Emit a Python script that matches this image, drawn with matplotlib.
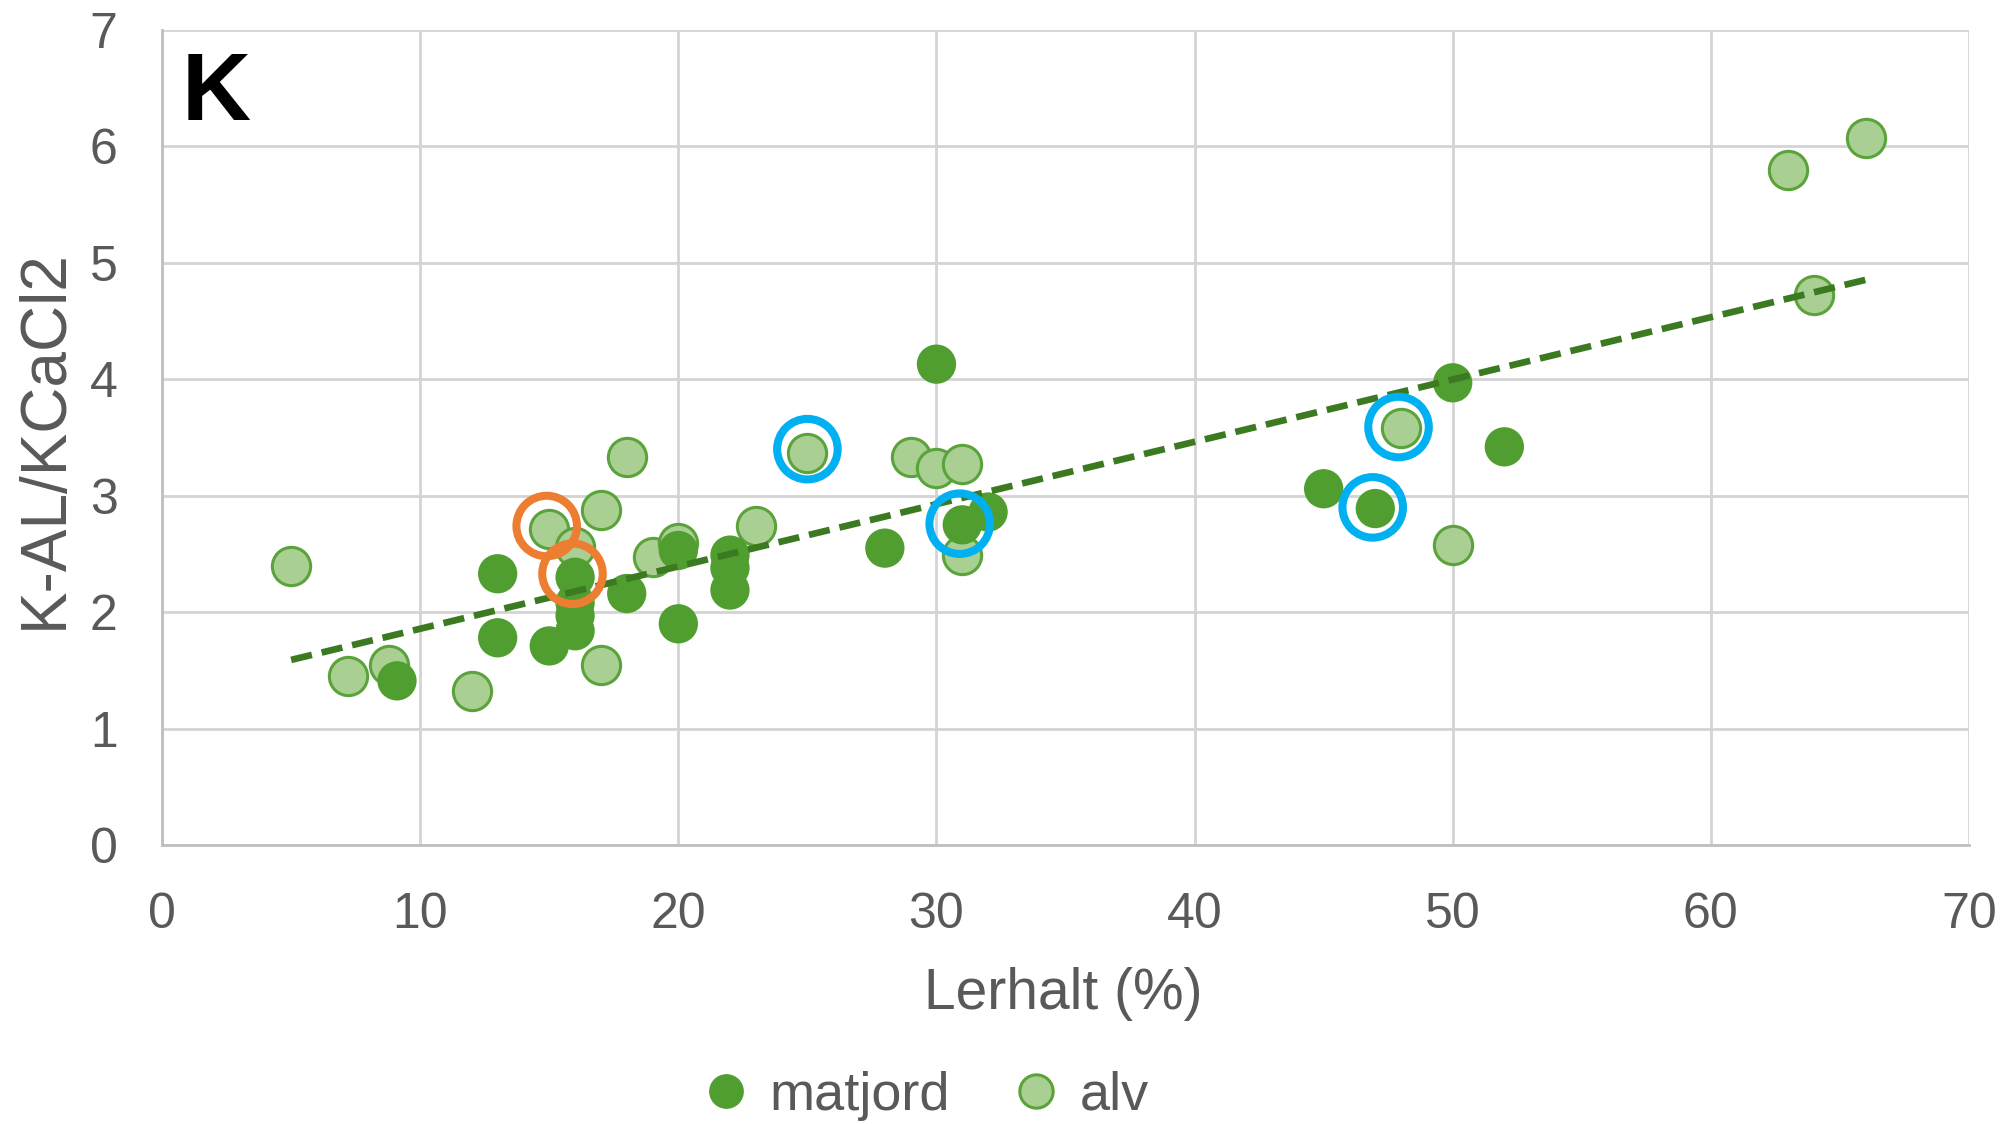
import matplotlib
matplotlib.use("Agg")
import matplotlib.pyplot as plt
from matplotlib.lines import Line2D
import numpy as np

# ---- data ----
matjord_x = [9.1, 13, 13, 15, 16, 16, 16, 16, 18, 20, 20, 22, 22, 22, 28, 30, 31, 32, 45, 47, 50, 52]
matjord_y = [1.41, 2.33, 1.78, 1.71, 2.30, 2.08, 1.97, 1.84, 2.16, 2.53, 1.90, 2.49, 2.38, 2.19,
             2.55, 4.13, 2.75, 2.86, 3.06, 2.89, 3.97, 3.42]

alv_x = [5, 7.2, 8.8, 12, 15, 16, 17, 17, 18, 19, 20, 23, 25, 29, 30, 31, 31, 48, 50, 63, 64, 66]
alv_y = [2.40, 1.45, 1.55, 1.32, 2.71, 2.56, 2.88, 1.55, 3.33, 2.47, 2.59, 2.74, 3.37, 3.33,
         3.24, 3.27, 2.49, 3.58, 2.58, 5.80, 4.72, 6.07]

orange_ring_x = [14.9, 15.9]
orange_ring_y = [2.74, 2.33]
blue_ring_x = [25, 30.9, 46.9, 47.9]
blue_ring_y = [3.40, 2.76, 2.90, 3.59]

x_ticks = [0, 10, 20, 30, 40, 50, 60, 70]
y_ticks = [0, 1, 2, 3, 4, 5, 6, 7]

# ---- style ----
plt.rcParams['font.family'] = ['Liberation Sans', 'DejaVu Sans']
text_col = '#595959'
grid_col = '#D4D4D4'
dark_green = '#519E30'
light_fill = '#A9CF93'
light_edge = '#5AA33A'
trend_col = '#3C7A22'

fig = plt.figure(figsize=(20.11, 11.24), dpi=100)
ax = fig.add_axes([0.0806, 0.2482, 0.8985, 0.7251])

ax.scatter(alv_x, alv_y, s=760, c=light_fill, edgecolors=light_edge, linewidths=2.2, zorder=3)
ax.scatter(matjord_x, matjord_y, s=800, c=dark_green, edgecolors='none', zorder=4)

# trend line fitted to all data
all_x = np.array(matjord_x + alv_x)
all_y = np.array(matjord_y + alv_y)
k, m = np.polyfit(all_x, all_y, 1)
xs = np.array([all_x.min(), all_x.max()])
ax.plot(xs, k * xs + m, color=trend_col, lw=4.8, linestyle=(0, (3.2, 1.5)), zorder=5)

ax.scatter(orange_ring_x, orange_ring_y, s=1900, facecolors='none', edgecolors='#ED7D31',
           linewidths=5.8, zorder=6)
ax.scatter(blue_ring_x, blue_ring_y, s=1900, facecolors='none', edgecolors='#00B0F0',
           linewidths=5.8, zorder=6)

ax.set_xlim(0, 70)
ax.set_ylim(0, 7)
ax.set_xticks(x_ticks)
ax.set_yticks(y_ticks)
ax.grid(True, color=grid_col, lw=2.0, zorder=0)
ax.set_axisbelow(True)
for s in ['top', 'right']:
    ax.spines[s].set_visible(False)
for s in ['left', 'bottom']:
    ax.spines[s].set_color('#BFBFBF')
    ax.spines[s].set_linewidth(2.0)
ax.tick_params(axis='both', length=0, labelsize=36, labelcolor=text_col)
ax.tick_params(axis='x', pad=34)
ax.tick_params(axis='y', pad=32)

ax.set_xlabel('Lerhalt (%)', fontsize=41, color=text_col, va='center')
ax.xaxis.set_label_coords(0.499, -0.183)
ax.set_ylabel('K-AL/KCaCl2', fontsize=46, color=text_col, va='center')
ax.yaxis.set_label_coords(-0.0647, 0.498)

ax.text(0.011, 0.975, 'K', transform=ax.transAxes, fontsize=69, fontweight='bold',
        color='black', va='top', ha='left')

handles = [Line2D([], [], marker='o', ls='none', markersize=24, markerfacecolor=dark_green,
                  markeredgecolor=dark_green, label='matjord'),
           Line2D([], [], marker='o', ls='none', markersize=24, markerfacecolor=light_fill,
                  markeredgecolor=light_edge, markeredgewidth=2.2, label='alv')]
leg = fig.legend(handles=handles, loc='center', bbox_to_anchor=(0.458, 0.025), ncol=2,
                 frameon=False, fontsize=39, handletextpad=0.2, columnspacing=1.0,
                 handlelength=1.2)
for t in leg.get_texts():
    t.set_color(text_col)

fig.savefig('out.png', dpi=100)
